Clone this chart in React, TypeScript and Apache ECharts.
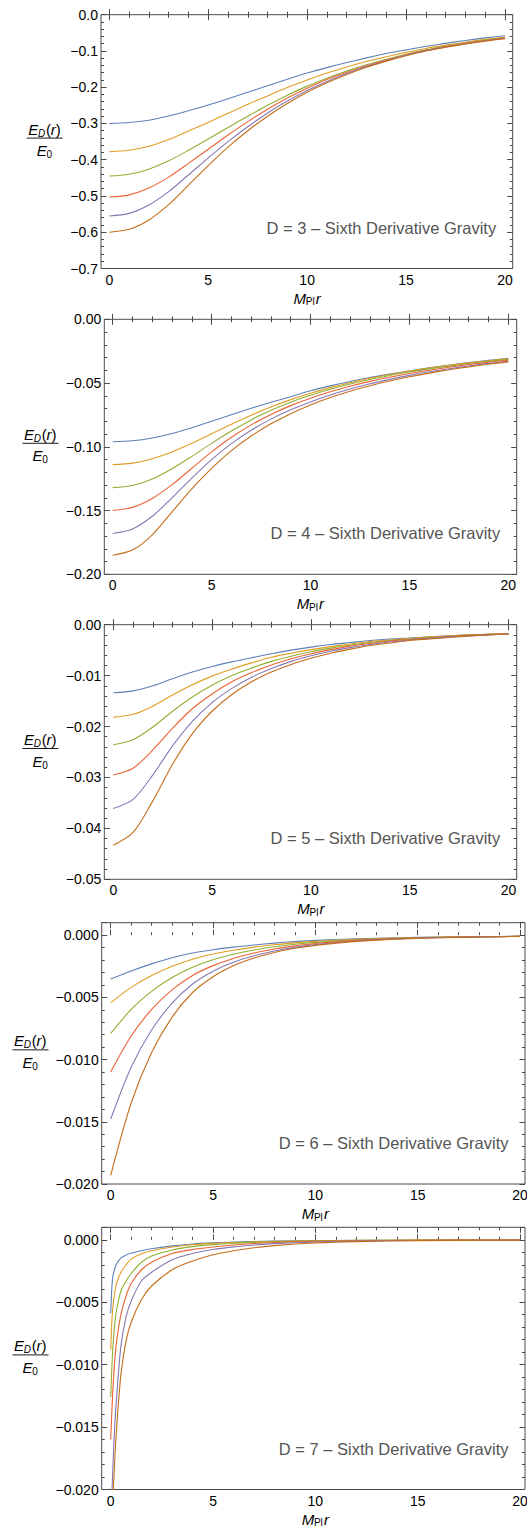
import React, { useEffect, useRef } from 'react';
import * as echarts from 'echarts';

const W = 527;
const H = 1533;
const FONT = '"Liberation Sans", Arial, Helvetica, sans-serif';
const FRAME = '#4a4a4a';
const COLORS = ['#5E81B5', '#E19C24', '#8FB032', '#EB6235', '#8778B3', '#C56E1A'];

// ---------- data ----------
const X_STEP1 = [0, 1, 2, 3, 4, 5, 6, 7, 8, 9, 10, 11, 12, 13, 14, 15, 16, 17, 18, 19, 20];

// D = 3
const D3_BLUE = [-0.300, -0.2975, -0.291, -0.2795, -0.265, -0.249, -0.232, -0.214, -0.196, -0.178, -0.161, -0.146, -0.132, -0.119, -0.107, -0.097, -0.087, -0.079, -0.071, -0.064, -0.058];
const D3_ORANGE = [-0.378, -0.374, -0.363, -0.344, -0.321, -0.297, -0.272, -0.247, -0.224, -0.201, -0.180, -0.161, -0.144, -0.129, -0.116, -0.104, -0.093, -0.084, -0.076, -0.068, -0.062];
const D3_GREEN = [-0.445, -0.440, -0.426, -0.403, -0.374, -0.343, -0.311, -0.280, -0.250, -0.222, -0.197, -0.175, -0.155, -0.138, -0.123, -0.109, -0.097, -0.087, -0.078, -0.070, -0.063];
const D3_RED = [-0.503, -0.497, -0.478, -0.448, -0.410, -0.371, -0.332, -0.295, -0.261, -0.230, -0.203, -0.179, -0.159, -0.141, -0.125, -0.111, -0.098, -0.088, -0.079, -0.071, -0.064];
const D3_PURPLE = [-0.555, -0.548, -0.525, -0.488, -0.442, -0.395, -0.350, -0.309, -0.271, -0.238, -0.209, -0.184, -0.162, -0.143, -0.127, -0.112, -0.099, -0.089, -0.080, -0.072, -0.065];
const D3_BROWN = [-0.600, -0.592, -0.566, -0.524, -0.470, -0.416, -0.365, -0.320, -0.280, -0.245, -0.214, -0.188, -0.165, -0.145, -0.128, -0.113, -0.100, -0.090, -0.081, -0.073, -0.066];

// D = 4
const D4_BLUE = [-0.0960, -0.0953, -0.0931, -0.0896, -0.0850, -0.0800, -0.0748, -0.0698, -0.0651, -0.0607, -0.0560, -0.0522, -0.0488, -0.0457, -0.0430, -0.0405, -0.0381, -0.0360, -0.0340, -0.0322, -0.0306];
const D4_ORANGE = [-0.1140, -0.1128, -0.1093, -0.1040, -0.0973, -0.0898, -0.0823, -0.0752, -0.0688, -0.0630, -0.0580, -0.0536, -0.0497, -0.0463, -0.0433, -0.0406, -0.0382, -0.0361, -0.0342, -0.0325, -0.0310];
const D4_GREEN = [-0.1320, -0.1303, -0.1252, -0.1172, -0.1075, -0.0973, -0.0876, -0.0789, -0.0714, -0.0650, -0.0596, -0.0549, -0.0508, -0.0472, -0.0441, -0.0413, -0.0389, -0.0367, -0.0347, -0.0330, -0.0314];
const D4_RED = [-0.1500, -0.1475, -0.1405, -0.1297, -0.1168, -0.1040, -0.0925, -0.0828, -0.0746, -0.0677, -0.0619, -0.0569, -0.0525, -0.0487, -0.0454, -0.0425, -0.0399, -0.0376, -0.0355, -0.0337, -0.0320];
const D4_PURPLE = [-0.1680, -0.1645, -0.1545, -0.1400, -0.1245, -0.1100, -0.0975, -0.0870, -0.0783, -0.0710, -0.0648, -0.0594, -0.0547, -0.0506, -0.0471, -0.0440, -0.0412, -0.0388, -0.0366, -0.0346, -0.0329];
const D4_BROWN = [-0.1850, -0.1810, -0.1690, -0.1510, -0.1330, -0.1170, -0.1030, -0.0915, -0.0820, -0.0740, -0.0672, -0.0614, -0.0564, -0.0521, -0.0484, -0.0451, -0.0422, -0.0396, -0.0373, -0.0352, -0.0334];

// D = 5
const D5_BLUE = [-0.01335, -0.0130, -0.0120, -0.0106, -0.0093, -0.0082, -0.0073, -0.0065, -0.0057, -0.0050, -0.0044, -0.0039, -0.0035, -0.0031, -0.0028, -0.0026, -0.0024, -0.0022, -0.0020, -0.0019, -0.0018];
const D5_ORANGE = [-0.0182, -0.0176, -0.0160, -0.0138, -0.0118, -0.0101, -0.0087, -0.0075, -0.0064, -0.0056, -0.0049, -0.0043, -0.0038, -0.0033, -0.0030, -0.0027, -0.0024, -0.0022, -0.0020, -0.0019, -0.0018];
const D5_GREEN = [-0.02356, -0.0226, -0.0201, -0.0170, -0.0142, -0.0119, -0.0100, -0.0085, -0.0072, -0.0062, -0.0053, -0.0046, -0.0040, -0.0035, -0.0031, -0.0028, -0.0025, -0.0023, -0.0021, -0.0019, -0.0018];
const D5_RED = [-0.0295, -0.0282, -0.0246, -0.0203, -0.0165, -0.0136, -0.0112, -0.0094, -0.0079, -0.0067, -0.0057, -0.0049, -0.0042, -0.0037, -0.0032, -0.0029, -0.0026, -0.0023, -0.0021, -0.0019, -0.0018];
const D5_PURPLE = [-0.0361, -0.0343, -0.0295, -0.0238, -0.0190, -0.0153, -0.0125, -0.0103, -0.0086, -0.0072, -0.0061, -0.0052, -0.0045, -0.0039, -0.0034, -0.0030, -0.0027, -0.0024, -0.0022, -0.0020, -0.0018];
const D5_BROWN = [-0.0433, -0.0408, -0.0346, -0.0274, -0.0214, -0.0170, -0.0137, -0.0112, -0.0093, -0.0078, -0.0066, -0.0056, -0.0048, -0.0041, -0.0036, -0.0031, -0.0028, -0.0025, -0.0022, -0.0020, -0.0018];

// D = 6
const X_D6 = [0, 1, 2, 3, 4, 5, 6, 7, 8, 9, 10, 12, 14, 16, 18, 20];
const D6_BLUE = [-0.00353, -0.00288, -0.00231, -0.00182, -0.00144, -0.00117, -0.00096, -0.00079, -0.00064, -0.00052, -0.00042, -0.00029, -0.00021, -0.00016, -0.00012, -0.00009];
const D6_ORANGE = [-0.00544, -0.00420, -0.00324, -0.00250, -0.00193, -0.00152, -0.00121, -0.00096, -0.00077, -0.00062, -0.00050, -0.00033, -0.00023, -0.00017, -0.00013, -0.00010];
const D6_GREEN = [-0.00790, -0.00597, -0.00452, -0.00341, -0.00258, -0.00198, -0.00153, -0.00119, -0.00093, -0.00073, -0.00058, -0.00038, -0.00026, -0.00018, -0.00013, -0.00010];
const D6_RED = [-0.01100, -0.00811, -0.00597, -0.00440, -0.00324, -0.00245, -0.00187, -0.00144, -0.00111, -0.00086, -0.00067, -0.00042, -0.00028, -0.00019, -0.00014, -0.00010];
const D6_PURPLE = [-0.01478, -0.01061, -0.00762, -0.00547, -0.00393, -0.00290, -0.00218, -0.00166, -0.00127, -0.00098, -0.00076, -0.00047, -0.00030, -0.00020, -0.00014, -0.00010];
const D6_BROWN = [-0.01930, -0.01349, -0.00943, -0.00659, -0.00461, -0.00334, -0.00246, -0.00184, -0.00139, -0.00106, -0.00082, -0.00050, -0.00032, -0.00021, -0.00015, -0.00010];

// D = 7
const X_D7 = [0, 0.05, 0.1, 0.2, 0.3, 0.5, 0.75, 1, 1.5, 2, 3, 4, 5, 6, 7, 8, 10, 12, 15, 20];
const D7_BLUE = [-0.0059, -0.0040, -0.0030, -0.0023, -0.0019, -0.00145, -0.00122, -0.00108, -0.00088, -0.00072, -0.00049, -0.00034, -0.00025, -0.00019, -0.00014, -0.00011, -0.00007, -0.00005, -0.00003, -0.00002];
const D7_ORANGE = [-0.0088, -0.0068, -0.0055, -0.0042, -0.0034, -0.0026, -0.0020, -0.00155, -0.00112, -0.00088, -0.00058, -0.00040, -0.00029, -0.00022, -0.00017, -0.00013, -0.00008, -0.00005, -0.00003, -0.00002];
const D7_GREEN = [-0.0126, -0.0105, -0.0088, -0.0067, -0.0055, -0.0041, -0.0033, -0.0027, -0.0018, -0.0013, -0.00082, -0.00055, -0.00039, -0.00028, -0.00021, -0.00016, -0.00010, -0.00006, -0.00004, -0.00002];
const D7_RED = [-0.0160, -0.0140, -0.0122, -0.0096, -0.0080, -0.0060, -0.0045, -0.0035, -0.0024, -0.0018, -0.0011, -0.00078, -0.00058, -0.00042, -0.00030, -0.00022, -0.00013, -0.00008, -0.00004, -0.00002];
const D7_PURPLE = [-0.0240, -0.0210, -0.0185, -0.0148, -0.0124, -0.0085, -0.0062, -0.0049, -0.0033, -0.0026, -0.0016, -0.0011, -0.00078, -0.00057, -0.00042, -0.00031, -0.00018, -0.00011, -0.00006, -0.00003];
const D7_BROWN = [-0.0320, -0.0260, -0.0215, -0.0175, -0.0148, -0.0108, -0.0081, -0.0066, -0.0048, -0.0037, -0.0024, -0.0017, -0.0012, -0.00088, -0.00064, -0.00047, -0.00026, -0.00015, -0.00007, -0.00003];

// ---------- layout ----------
type Panel = {
  d: number; xs: number[]; series: number[][];
  ymin: number; ymax: number; interval: number; dec: number;
  fl: number; fr: number; ft: number; fb: number; x0: number; x20: number; labCx: number;
};

const PANELS: Panel[] = [
  { d: 3, xs: X_STEP1, series: [D3_BLUE, D3_ORANGE, D3_GREEN, D3_RED, D3_PURPLE, D3_BROWN], ymin: -0.7, ymax: 0, interval: 0.1, dec: 1,
    fl: 101, fr: 512.7, ft: 14.7, fb: 268.5, x0: 109.3, x20: 505, labCx: 44.7 },
  { d: 4, xs: X_STEP1, series: [D4_BLUE, D4_ORANGE, D4_GREEN, D4_RED, D4_PURPLE, D4_BROWN], ymin: -0.2, ymax: 0, interval: 0.05, dec: 2,
    fl: 104.3, fr: 516.7, ft: 319.3, fb: 574.3, x0: 112.7, x20: 508.3, labCx: 40.5 },
  { d: 5, xs: X_STEP1, series: [D5_BLUE, D5_ORANGE, D5_GREEN, D5_RED, D5_PURPLE, D5_BROWN], ymin: -0.05, ymax: 0, interval: 0.01, dec: 2,
    fl: 104.3, fr: 516.7, ft: 624.7, fb: 879.3, x0: 113.3, x20: 508.5, labCx: 40.5 },
  { d: 6, xs: X_D6, series: [D6_BLUE, D6_ORANGE, D6_GREEN, D6_RED, D6_PURPLE, D6_BROWN], ymin: -0.02, ymax: 0.001, interval: 0.005, dec: 3,
    fl: 101.7, fr: 525, ft: 922.7, fb: 1184, x0: 110.7, x20: 520, labCx: 30.5 },
  { d: 7, xs: X_D7, series: [D7_BLUE, D7_ORANGE, D7_GREEN, D7_RED, D7_PURPLE, D7_BROWN], ymin: -0.02, ymax: 0.001, interval: 0.005, dec: 3,
    fl: 101.7, fr: 525, ft: 1227.3, fb: 1489.5, x0: 110.7, x20: 520, labCx: 30.5 },
];

function txt(x: number, y: number, text: string, size: number, opt: { italic?: boolean; color?: string; align?: string } = {}) {
  const align = opt.align || 'left';
  return {
    type: 'text', x, y, silent: true,
    style: {
      text, fontSize: size, fontFamily: FONT, fontStyle: opt.italic ? 'italic' : 'normal',
      fill: opt.color || '#000',
      align, textAlign: align, verticalAlign: 'middle', textVerticalAlign: 'middle',
    },
  };
}

function fracLabel(cx: number, cy: number) {
  const els: any[] = [];
  const nY = cy - 9;
  const nx = cx - 16.5;
  els.push(txt(nx, nY, 'E', 15, { italic: true }));
  els.push(txt(nx + 9.8, nY + 4, 'D', 10, { italic: true }));
  els.push(txt(nx + 17.8, nY, '(', 15));
  els.push(txt(nx + 22.6, nY, 'r', 15, { italic: true }));
  els.push(txt(nx + 27.6, nY, ')', 15));
  els.push({ type: 'line', silent: true, shape: { x1: cx - 18, y1: cy, x2: cx + 18, y2: cy }, style: { stroke: '#000', lineWidth: 0.9 } });
  const dY = cy + 12.5;
  const dx = cx - 8;
  els.push(txt(dx, dY, 'E', 15, { italic: true }));
  els.push(txt(dx + 9.8, dY + 4, '0', 10));
  return els;
}

function xLabel(cx: number, cy: number) {
  const start = cx - 13.7;
  return [
    txt(start, cy, 'M', 15, { italic: true }),
    txt(start + 12.3, cy + 3.5, 'Pl', 10),
    txt(start + 22.3, cy, 'r', 15, { italic: true }),
  ];
}

function buildOption() {
  const grid: any[] = [];
  const xAxis: any[] = [];
  const yAxis: any[] = [];
  const series: any[] = [];
  const graphic: any[] = [];

  const tick = { show: true, inside: true, length: 5.5, lineStyle: { color: FRAME, width: 1 } };
  const minor = { show: true, splitNumber: 5, length: 3, lineStyle: { color: FRAME, width: 1 } };

  PANELS.forEach((p) => {
    const outer = grid.length;
    grid.push({ left: p.fl, top: p.ft, width: p.fr - p.fl, height: p.fb - p.ft, show: true, borderColor: FRAME, borderWidth: 1,
      backgroundColor: 'transparent', containLabel: false, outerBoundsMode: 'none' });
    const inner = grid.length;
    grid.push({ left: p.x0, top: p.ft, width: p.x20 - p.x0, height: p.fb - p.ft, show: false, containLabel: false, outerBoundsMode: 'none' });

    const xb = xAxis.length;
    xAxis.push({
      type: 'value', gridIndex: inner, position: 'bottom', min: 0, max: 20, interval: 5,
      axisLine: { show: false }, axisTick: tick, minorTick: minor, splitLine: { show: false }, minorSplitLine: { show: false },
      axisLabel: { show: true, margin: 4, fontSize: 14, color: '#000', fontFamily: FONT, formatter: (v: number) => String(Math.round(v)) },
    });
    xAxis.push({
      type: 'value', gridIndex: inner, position: 'top', min: 0, max: 20, interval: 5,
      axisLine: { show: false }, axisTick: tick, minorTick: minor, splitLine: { show: false }, axisLabel: { show: false },
    });
    xAxis.push({ type: 'value', gridIndex: outer, show: false, min: 0, max: 1 });

    const fmt = (v: number) => {
      if (v > 1e-12) return '';
      const s = Math.abs(v).toFixed(p.dec);
      return v < -1e-12 ? '\u2212' + s : s;
    };
    yAxis.push({
      type: 'value', gridIndex: outer, position: 'left', min: p.ymin, max: p.ymax, interval: p.interval,
      axisLine: { show: false }, axisTick: tick, minorTick: minor, splitLine: { show: false }, minorSplitLine: { show: false },
      axisLabel: { show: true, margin: 3, fontSize: 14, color: '#000', fontFamily: FONT, formatter: fmt, showMinLabel: true },
    });
    yAxis.push({
      type: 'value', gridIndex: outer, position: 'right', min: p.ymin, max: p.ymax, interval: p.interval,
      axisLine: { show: false }, axisTick: tick, minorTick: minor, splitLine: { show: false }, axisLabel: { show: false },
    });
    const yi = yAxis.length;
    yAxis.push({ type: 'value', gridIndex: inner, show: false, min: p.ymin, max: p.ymax });

    p.series.forEach((ys, k) => {
      series.push({
        type: 'line', xAxisIndex: xb, yAxisIndex: yi, name: `D${p.d}-${k}`,
        data: p.xs.map((x, j) => [x, ys[j]]),
        showSymbol: false, symbol: 'none', smooth: 0.3, clip: true, silent: true,
        lineStyle: { color: COLORS[k], width: 1.1 }, itemStyle: { color: COLORS[k] },
      });
    });

    graphic.push(txt(p.fr - 16.5, p.fb - 41, `D = ${p.d} \u2013 Sixth Derivative Gravity`, 16.5, { color: '#555', align: 'right' }));
    graphic.push(...xLabel((p.x0 + p.x20) / 2, p.fb + 29.5));
    graphic.push(...fracLabel(p.labCx, (p.ft + p.fb) / 2 - 3.5));
  });

  return { animation: false, backgroundColor: '#fff', grid, xAxis, yAxis, series, graphic };
}

export default function App() {
  const ref = useRef<HTMLDivElement>(null);
  useEffect(() => {
    document.body.style.margin = '0';
    if (!ref.current) return;
    const chart = echarts.init(ref.current, undefined, { renderer: 'svg', width: W, height: H });
    chart.setOption(buildOption() as any);
    return () => chart.dispose();
  }, []);
  return <div ref={ref} style={{ width: W, height: H, background: '#fff' }} />;
}
